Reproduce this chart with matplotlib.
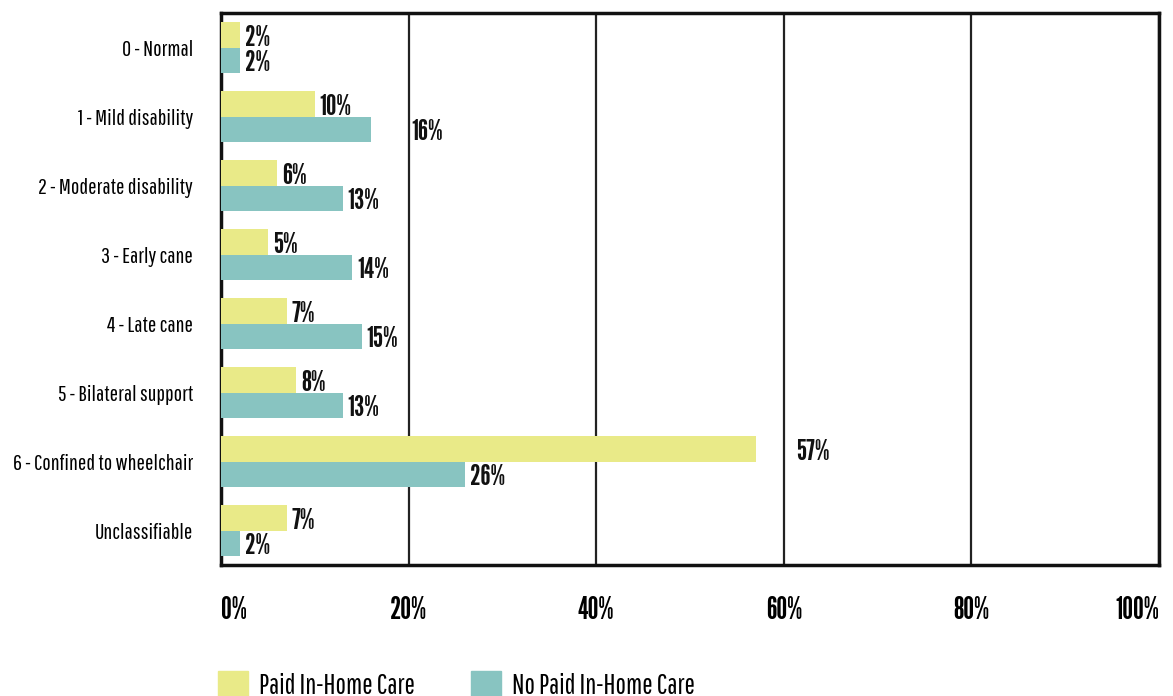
import matplotlib
matplotlib.use("Agg")
import matplotlib.pyplot as plt
from matplotlib.patches import Patch

categories = ["0 - Normal", "1 - Mild disability", "2 - Moderate disability",
              "3 - Early cane", "4 - Late cane", "5 - Bilateral support",
              "6 - Confined to wheelchair", "Unclassifiable"]
paid = [2, 10, 6, 5, 7, 8, 57, 7]
no_paid = [2, 16, 13, 14, 15, 13, 26, 2]
x_ticks = [0, 20, 40, 60, 80, 100]
series_names = ["Paid In-Home Care", "No Paid In-Home Care"]

# labels that were pushed out past the next gridline in the original
shifted = {("no_paid", 1), ("paid", 6)}

yellow = "#e9ea88"
teal = "#88c4c1"
plt.rcParams["font.family"] = ["Pathway Gothic One", "DejaVu Sans"]
bold_font = ["League Gothic", "DejaVu Sans"]

fig = plt.figure(figsize=(11.73, 6.96), dpi=100)
ax = fig.add_axes([0.1884, 0.1882, 0.7996, 0.7931])

h = 0.37
ys = list(range(len(categories)))
ax.barh([y - h / 2 for y in ys], paid, height=h, color=yellow, zorder=3)
ax.barh([y + h / 2 for y in ys], no_paid, height=h, color=teal, zorder=3)

for key, vals, off in (("paid", paid, -h / 2), ("no_paid", no_paid, h / 2)):
    for i, v in enumerate(vals):
        dx = 29 if (key, i) in shifted else 3.5
        ax.annotate(f"{v}%", (v, i + off + 0.04), xytext=(dx, 0),
                    textcoords="offset points", va="center", ha="left",
                    fontsize=21, family=bold_font, color="#111111", zorder=4)

ax.set_xlim(0, 100)
ax.set_ylim(len(categories) - 0.5, -0.5)
ax.set_yticks(ys)
ax.set_yticklabels(categories, fontsize=16)
ax.set_xticks(x_ticks)
ax.set_xticklabels([f"{t}%" for t in x_ticks], fontsize=22, family=bold_font)
xl = ax.get_xticklabels()
xl[0].set_ha("left")
xl[-1].set_ha("right")
ax.tick_params(axis="y", length=0, pad=20)
ax.tick_params(axis="x", length=0, pad=22)
ax.grid(axis="x", color="#222222", linewidth=1.6, zorder=1)
for s in ax.spines.values():
    s.set_linewidth(2.5)
    s.set_color("#111111")

handles = [Patch(color=yellow), Patch(color=teal)]
fig.legend(handles, series_names, loc="upper left",
           bbox_to_anchor=(0.176, 0.052), ncol=2, frameon=False,
           fontsize=20, handlelength=1.1, handleheight=1.1,
           handletextpad=0.4, columnspacing=2.0, borderaxespad=0)

fig.savefig("out.png", dpi=100)
